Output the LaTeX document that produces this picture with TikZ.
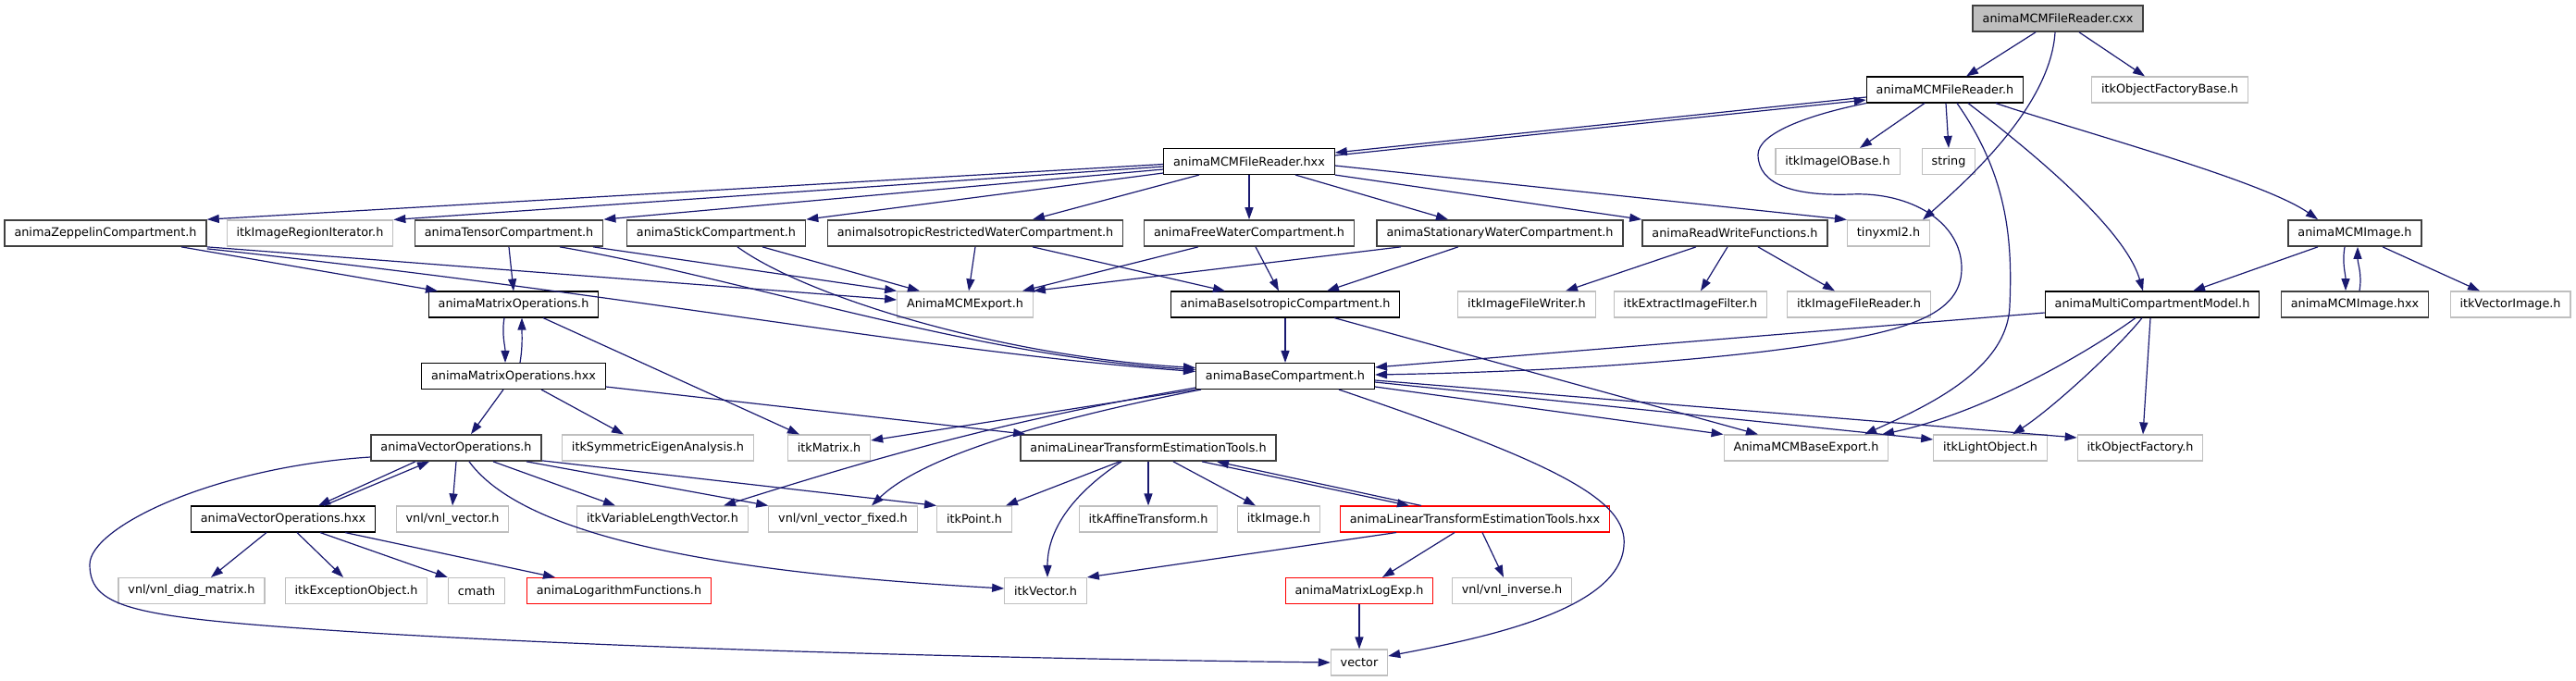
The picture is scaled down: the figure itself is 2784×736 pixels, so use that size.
\documentclass[tikz,border=0pt]{standalone}
\usepackage{fontspec}
\setmainfont{DejaVu Sans}
\usepackage{xcolor}
\usepackage{tikz}
\usetikzlibrary{arrows.meta, calc}

\definecolor{edgeblue}{RGB}{25,25,112}
\definecolor{extgray}{RGB}{191,191,191}
\definecolor{darkborder}{RGB}{64,64,64}

\begin{document}
\begin{tikzpicture}[
    x=1pt, y=-1pt,
    %% node styles
    file/.style={
        draw=black, line width=1.1pt, fill=white,
        inner xsep=10.4pt, inner ysep=0pt, minimum height=28pt,
        font=\fontsize{12.8}{14}\selectfont
    },
    darkfile/.style={file, draw=darkborder, line width=1.7pt},
    extfile/.style={file, draw=extgray},
    undocfile/.style={file, draw=red},
    mainfile/.style={darkfile, fill=extgray},
    %% arrow style
    dep/.style={draw=edgeblue, line width=1.2pt, -{Triangle[length=13pt,width=9pt]}}
]

    \useasboundingbox (0,0) rectangle (2784,736);

    %% --- row 0-2 ----------------------------------------------
    \node[mainfile] (cxx)      at (2224,20)  {animaMCMFileReader.cxx};
    \node[file]     (mcmh)     at (2102,97)  {animaMCMFileReader.h};
    \node[extfile]  (ofbase)   at (2345,97)  {itkObjectFactoryBase.h};
    \node[file]     (mcmhxx)   at (1350,174.5) {animaMCMFileReader.hxx};
    \node[extfile]  (imageio)  at (1986,174.5) {itkImageIOBase.h};
    \node[extfile]  (string)   at (2106,174.5) {string};

    %% --- row 3 ------------------------------------------------
    \node[darkfile] (zeppelin) at (114,252)  {animaZeppelinCompartment.h};
    \node[extfile]  (regioniter) at (335,252) {itkImageRegionIterator.h};
    \node[darkfile] (tensor)   at (550,252)  {animaTensorCompartment.h};
    \node[darkfile] (stick)    at (774,252)  {animaStickCompartment.h};
    \node[darkfile] (isorestr) at (1054,252) {animaIsotropicRestrictedWaterCompartment.h};
    \node[darkfile] (freewater) at (1350,252) {animaFreeWaterCompartment.h};
    \node[darkfile] (stationary) at (1621,252) {animaStationaryWaterCompartment.h};
    \node[darkfile] (readwrite) at (1875,252) {animaReadWriteFunctions.h};
    \node[extfile]  (tinyxml)  at (2041,252) {tinyxml2.h};
    \node[darkfile] (mcmimage) at (2545,252) {animaMCMImage.h};

    %% --- row 4 ------------------------------------------------
    \node[file]     (matrixops) at (555,329)  {animaMatrixOperations.h};
    \node[extfile]  (mcmexport) at (1043,329) {AnimaMCMExport.h};
    \node[file]     (baseiso)   at (1389,329) {animaBaseIsotropicCompartment.h};
    \node[extfile]  (filewriter) at (1650,329) {itkImageFileWriter.h};
    \node[extfile]  (extract)   at (1827,329) {itkExtractImageFilter.h};
    \node[extfile]  (filereader) at (2009,329) {itkImageFileReader.h};
    \node[file]     (mcmodel)   at (2326,329) {animaMultiCompartmentModel.h};
    \node[darkfile] (mcmimagehxx) at (2545,329) {animaMCMImage.hxx};
    \node[extfile]  (vectorimage) at (2713,329) {itkVectorImage.h};

    %% --- row 5-6 ----------------------------------------------
    \node[file]     (matrixopshxx) at (555,406.5) {animaMatrixOperations.hxx};
    \node[file]     (basecomp)  at (1389,406.5) {animaBaseCompartment.h};
    \node[darkfile] (vectorops) at (493,484)  {animaVectorOperations.h};
    \node[extfile]  (symeigen)  at (711,484)  {itkSymmetricEigenAnalysis.h};
    \node[extfile]  (itkmatrix) at (896,484)  {itkMatrix.h};
    \node[darkfile] (lintools)  at (1241,484) {animaLinearTransformEstimationTools.h};
    \node[extfile]  (baseexport) at (1952,484) {AnimaMCMBaseExport.h};
    \node[extfile]  (lightobject) at (2151,484) {itkLightObject.h};
    \node[extfile]  (objfactory) at (2313,484) {itkObjectFactory.h};

    %% --- row 7-9 ----------------------------------------------
    \node[file]     (vectoropshxx) at (306,561) {animaVectorOperations.hxx};
    \node[extfile]  (vnlvector) at (489,561)  {vnl/vnl\_vector.h};
    \node[extfile]  (varlength) at (716,561)  {itkVariableLengthVector.h};
    \node[extfile]  (vnlfixed)  at (911,561)  {vnl/vnl\_vector\_fixed.h};
    \node[extfile]  (itkpoint)  at (1053,561) {itkPoint.h};
    \node[extfile]  (affine)    at (1241,561) {itkAffineTransform.h};
    \node[extfile]  (itkimage)  at (1382,561) {itkImage.h};
    \node[undocfile] (lintoolshxx) at (1594,561) {animaLinearTransformEstimationTools.hxx};
    \node[extfile]  (diagmatrix) at (207,638.5) {vnl/vnl\_diag\_matrix.h};
    \node[extfile]  (exception) at (385,638.5) {itkExceptionObject.h};
    \node[extfile]  (cmath)     at (515,638.5) {cmath};
    \node[undocfile] (logfunc)  at (669,638.5) {animaLogarithmFunctions.h};
    \node[extfile]  (itkvector) at (1130,638.5) {itkVector.h};
    \node[undocfile] (logexp)   at (1469,638.5) {animaMatrixLogExp.h};
    \node[extfile]  (vnlinverse) at (1634,638.5) {vnl/vnl\_inverse.h};
    \node[extfile]  (vector)    at (1469,716) {vector};

    %% --- edges: cxx and reader header -------------------------
    \draw[dep] ([xshift=-24]cxx.south) -- ([xshift=23]mcmh.north);
    \draw[dep] ([xshift=-3]cxx.south) .. controls (2216,114) and (2128,193) .. ([xshift=37]tinyxml.north);
    \draw[dep] ([xshift=23]cxx.south) -- ([xshift=-27]ofbase.north);
    \draw[dep] ([yshift=-8]mcmh.west) -- ([yshift=9.5]mcmhxx.east);
    \draw[dep] ([yshift=6.5]mcmhxx.east) -- ([yshift=-11]mcmh.west);
    \draw[dep] ([xshift=-22]mcmh.south) -- ([xshift=24]imageio.north);
    \draw[dep] ([xshift=1]mcmh.south) -- (string.north);
    \draw[dep] ([xshift=25]mcmh.south) .. controls (2187,157) and (2296,245) .. ([xshift=-10]mcmodel.north);
    \draw[dep] ([xshift=55]mcmh.south) .. controls (2247,142) and (2445,195) .. ([xshift=-40]mcmimage.north);
    \draw[dep] ([xshift=13]mcmh.south) .. controls (2170,190) and (2175,260) .. (2172,330)
        .. controls (2170,400) and (2080,440) .. ([xshift=63]baseexport.north);
    \draw[dep] (mcmh.south west) .. controls (1950,125) and (1900,145) .. (1900,167)
        .. controls (1900,200) and (1940,212) .. (2000,210)
        .. controls (2065,207) and (2120,240) .. (2120,290)
        .. controls (2120,345) and (2050,362) .. (1906,380)
        .. controls (1750,398) and (1600,403) .. ([yshift=1.5]basecomp.east);

    %% --- edges: reader hxx ------------------------------------
    \draw[dep] ([yshift=-3]mcmhxx.west) -- (zeppelin.north east);
    \draw[dep] ([yshift=-5.5]mcmhxx.west) -- (regioniter.north east);
    \draw[dep] ([yshift=-8.5]mcmhxx.west) -- (tensor.north east);
    \draw[dep] ([yshift=-12.5]mcmhxx.west) -- (stick.north east);
    \draw[dep] ([xshift=-54]mcmhxx.south) -- ([xshift=62]isorestr.north);
    \draw[dep] (mcmhxx.south) -- (freewater.north);
    \draw[dep] ([xshift=50]mcmhxx.south) -- ([xshift=-56]stationary.north);
    \draw[dep] (mcmhxx.south east) -- (readwrite.north west);
    \draw[dep] ([yshift=-4.5]mcmhxx.east) -- (tinyxml.north west);

    %% --- edges: compartments ----------------------------------
    \draw[dep] ([xshift=82]zeppelin.south) -- ([xshift=-82]matrixops.north);
    \draw[dep] (zeppelin.south east) -- ([yshift=5]mcmexport.west);
    \draw[dep] ([yshift=-2]zeppelin.south east) .. controls (700,320) and (1000,380) .. ([yshift=5]basecomp.west);
    \draw[dep] (tensor.south) -- (matrixops.north);
    \draw[dep] ([xshift=91]tensor.south) -- (mcmexport.north west);
    \draw[dep] ([xshift=55]tensor.south) .. controls (800,300) and (1050,385) .. ([yshift=7]basecomp.west);
    \draw[dep] ([xshift=50]stick.south) -- ([xshift=-49]mcmexport.north);
    \draw[dep] ([xshift=23]stick.south) .. controls (870,320) and (1080,385) .. ([yshift=9]basecomp.west);
    \draw[dep] (isorestr.south) -- ([xshift=4]mcmexport.north);
    \draw[dep] ([xshift=62]isorestr.south) -- ([xshift=-65]baseiso.north);
    \draw[dep] ([xshift=-55]freewater.south) -- ([xshift=62]mcmexport.north);
    \draw[dep] ([xshift=7]freewater.south) -- ([xshift=-7]baseiso.north);
    \draw[dep] ([xshift=-107]stationary.south) -- (mcmexport.north east);
    \draw[dep] ([xshift=-45]stationary.south) -- ([xshift=45]baseiso.north);
    \draw[dep] ([xshift=-42]readwrite.south) -- ([xshift=42]filewriter.north);
    \draw[dep] ([xshift=-8]readwrite.south) -- ([xshift=11]extract.north);
    \draw[dep] ([xshift=25]readwrite.south) -- ([xshift=-26]filereader.north);
    \draw[dep] (baseiso.south) -- (basecomp.north);
    \draw[dep] ([xshift=53]baseiso.south) -- ([xshift=-52]baseexport.north);

    %% --- edges: MCM image and model ---------------------------
    \draw[dep] ([xshift=-40]mcmimage.south) -- ([xshift=44]mcmodel.north);
    \draw[dep] ([xshift=-11]mcmimage.south) .. controls +(-3,18) and +(0,-18) .. ([xshift=-10]mcmimagehxx.north);
    \draw[dep] ([xshift=5]mcmimagehxx.north) .. controls +(3,-18) and +(0,18) .. ([xshift=3]mcmimage.south);
    \draw[dep] ([xshift=30]mcmimage.south) -- ([xshift=-33]vectorimage.north);
    \draw[dep] ([yshift=-9]mcmodel.west) -- ([yshift=9.5]basecomp.east);
    \draw[dep] ([xshift=-18]mcmodel.south) .. controls (2265,375) and (2150,445) .. ([xshift=82]baseexport.north);
    \draw[dep] ([xshift=-11]mcmodel.south) .. controls (2290,375) and (2220,440) .. ([xshift=24]lightobject.north);
    \draw[dep] ([xshift=-2]mcmodel.south) -- ([xshift=3]objfactory.north);

    %% --- edges: base compartment ------------------------------
    \draw[dep] ([yshift=-11.5]basecomp.east) -- (baseexport.north west);
    \draw[dep] ([yshift=-6.5]basecomp.east) -- ([yshift=9]lightobject.west);
    \draw[dep] ([yshift=-4.5]basecomp.east) -- ([yshift=11]objfactory.west);
    \draw[dep] ([xshift=58]basecomp.south) .. controls (1680,500) and (1760,540) .. (1755,590)
        .. controls (1750,660) and (1600,690) .. ([yshift=7]vector.east);
    \draw[dep] (basecomp.south west) -- ([yshift=8]itkmatrix.east);
    \draw[dep] ([yshift=2]basecomp.south west) .. controls (1080,455) and (930,500) .. ([xshift=66]varlength.north);
    \draw[dep] ([xshift=6]basecomp.south west) .. controls (1150,450) and (1000,490) .. ([xshift=31]vnlfixed.north);

    %% --- edges: matrix and vector operations ------------------
    \draw[dep] ([xshift=-10]matrixops.south) .. controls +(-3,18) and +(0,-18) .. ([xshift=-9]matrixopshxx.north);
    \draw[dep] ([xshift=7]matrixopshxx.north) .. controls +(3,-18) and +(0,18) .. ([xshift=9]matrixops.south);
    \draw[dep] ([xshift=32]matrixops.south) -- ([xshift=-32]itkmatrix.north);
    \draw[dep] ([xshift=-11]matrixopshxx.south) -- ([xshift=16]vectorops.north);
    \draw[dep] ([xshift=30]matrixopshxx.south) -- ([xshift=-37]symeigen.north);
    \draw[dep] ([yshift=-11.5]matrixopshxx.east) -- ([xshift=6]lintools.north west);
    \draw[dep] ([xshift=-44]vectorops.south) -- ([xshift=38]vectoropshxx.north);
    \draw[dep] ([xshift=44]vectoropshxx.north) -- ([xshift=-29]vectorops.south);
    \draw[dep] (vectorops.south) -- (vnlvector.north);
    \draw[dep] ([xshift=40]vectorops.south) -- ([xshift=-51]varlength.north);
    \draw[dep] ([xshift=76]vectorops.south) -- (vnlfixed.north west);
    \draw[dep] ([yshift=1]vectorops.south east) -- (itkpoint.north west);
    \draw[dep] ([xshift=14]vectorops.south) .. controls (570,585) and (800,620) .. ([yshift=2.5]itkvector.west);
    \draw[dep] ([yshift=-10]vectorops.west) .. controls (230,505) and (97,570) .. (97,610)
        .. controls (97,660) and (150,668) .. (400,684)
        .. controls (700,702) and (1100,712) .. (vector.west);
    \draw[dep] ([xshift=-18]vectoropshxx.south) -- ([xshift=21]diagmatrix.north);
    \draw[dep] ([xshift=15]vectoropshxx.south) -- ([xshift=-14]exception.north);
    \draw[dep] ([xshift=40]vectoropshxx.south) -- (cmath.north west);
    \draw[dep] ([xshift=67]vectoropshxx.south) -- ([xshift=-69]logfunc.north);

    %% --- edges: linear transform tools ------------------------
    \draw[dep] ([xshift=-31]lintools.south) -- ([xshift=34]itkpoint.north);
    \draw[dep] ([xshift=-29]lintools.south) .. controls (1150,540) and (1132,580) .. ([xshift=2]itkvector.north);
    \draw[dep] (lintools.south) -- (affine.north);
    \draw[dep] ([xshift=27]lintools.south) -- ([xshift=-25]itkimage.north);
    \draw[dep] ([xshift=58]lintools.south) -- ([xshift=-71]lintoolshxx.north);
    \draw[dep] ([xshift=-58]lintoolshxx.north) -- ([xshift=74]lintools.south);
    \draw[dep] ([xshift=-85]lintoolshxx.south) -- (itkvector.north east);
    \draw[dep] ([xshift=-22]lintoolshxx.south) -- ([xshift=25]logexp.north);
    \draw[dep] ([xshift=8]lintoolshxx.south) -- ([xshift=-9]vnlinverse.north);
    \draw[dep] (logexp.south) -- (vector.north);

\end{tikzpicture}
\end{document}
